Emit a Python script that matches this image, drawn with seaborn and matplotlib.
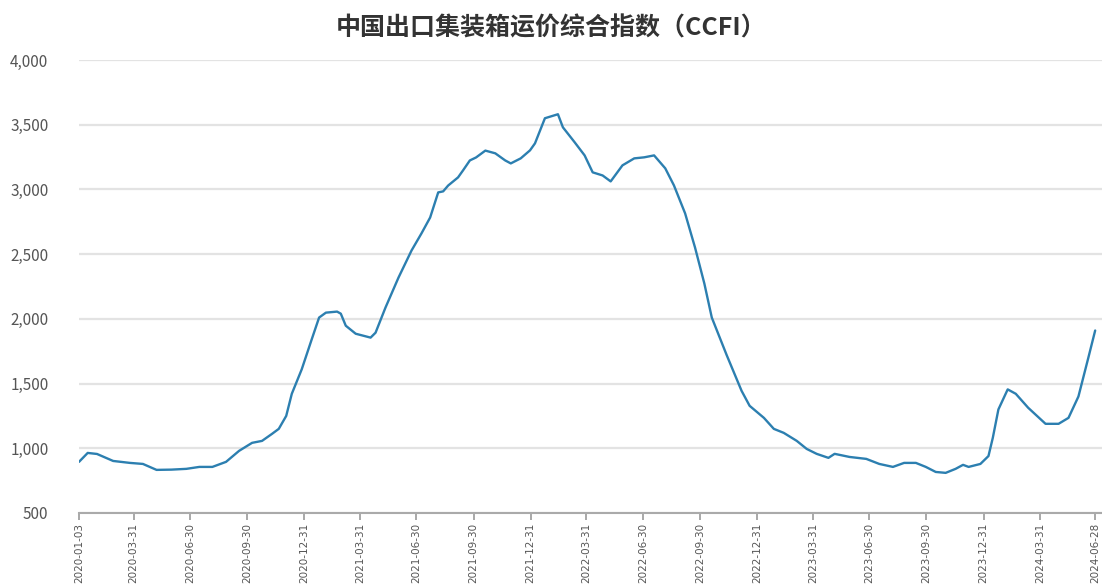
import pandas as pd
import numpy as np
import matplotlib
matplotlib.use('Agg')
import matplotlib.pyplot as plt
from matplotlib.ticker import FuncFormatter
import seaborn as sns

# CCFI weekly readings (approximate)
dates = ['2020-01-03', '2020-01-17', '2020-02-01', '2020-02-27', '2020-03-25', '2020-04-15',
         '2020-05-07', '2020-05-31', '2020-06-24', '2020-07-15', '2020-08-05', '2020-08-27',
         '2020-09-17', '2020-10-08', '2020-10-24', '2020-11-09', '2020-11-20', '2020-12-02',
         '2020-12-11', '2020-12-27', '2021-01-12', '2021-01-24', '2021-02-04', '2021-02-22',
         '2021-02-28', '2021-03-08', '2021-03-24', '2021-04-17', '2021-04-25', '2021-05-11',
         '2021-06-01', '2021-06-22', '2021-07-08', '2021-07-22', '2021-08-04', '2021-08-12',
         '2021-08-20', '2021-09-05', '2021-09-13', '2021-09-24', '2021-10-04', '2021-10-19',
         '2021-11-04', '2021-11-20', '2021-11-29', '2021-12-15', '2021-12-30', '2022-01-07',
         '2022-01-23', '2022-02-13', '2022-02-21', '2022-03-12', '2022-03-28', '2022-04-10',
         '2022-04-26', '2022-05-09', '2022-05-28', '2022-06-16', '2022-07-02', '2022-07-18',
         '2022-08-05', '2022-08-19', '2022-09-06', '2022-09-22', '2022-10-07', '2022-10-19',
         '2022-11-12', '2022-12-06', '2022-12-19', '2023-01-11', '2023-01-27', '2023-02-12',
         '2023-03-05', '2023-03-21', '2023-04-06', '2023-04-25', '2023-05-05', '2023-05-29',
         '2023-06-25', '2023-07-16', '2023-08-07', '2023-08-25', '2023-09-13', '2023-09-29',
         '2023-10-15', '2023-10-31', '2023-11-16', '2023-11-28', '2023-12-07', '2023-12-26',
         '2024-01-08', '2024-01-15', '2024-01-24', '2024-02-08', '2024-02-21', '2024-03-12',
         '2024-04-09', '2024-04-30', '2024-05-16', '2024-06-01', '2024-06-17', '2024-06-28']

ccfi = [895, 964, 956, 902, 887, 879,
        833, 835, 841, 856, 856, 895,
        980, 1042, 1057, 1111, 1150, 1250,
        1421, 1610, 1840, 2010, 2048, 2056,
        2040, 1947, 1885, 1855, 1893, 2087,
        2319, 2528, 2660, 2783, 2977, 2985,
        3030, 3093, 3147, 3224, 3247, 3300,
        3279, 3224, 3201, 3240, 3302, 3356,
        3550, 3581, 3480, 3364, 3263, 3132,
        3108, 3062, 3186, 3240, 3248, 3263,
        3163, 3031, 2815, 2551, 2273, 2010,
        1720, 1444, 1328, 1235, 1150, 1119,
        1057, 995, 957, 926, 957, 933,
        918, 879, 856, 887, 887, 856,
        817, 810, 841, 872, 856, 879,
        940, 1081, 1300, 1455, 1421, 1313,
        1189, 1189, 1235, 1400, 1700, 1910]

tick_dates = ['2020-01-03', '2020-03-31', '2020-06-30', '2020-09-30', '2020-12-31',
              '2021-03-31', '2021-06-30', '2021-09-30', '2021-12-31',
              '2022-03-31', '2022-06-30', '2022-09-30', '2022-12-31',
              '2023-03-31', '2023-06-30', '2023-09-30', '2023-12-31',
              '2024-03-31', '2024-06-28']

title = '中国出口集装箱运价综合指数（CCFI）'

df = pd.DataFrame({'date': pd.to_datetime(dates), 'ccfi': ccfi})

sns.set_theme(style='white')
plt.rcParams['font.family'] = ['Noto Sans CJK SC', 'DejaVu Sans']

fig = plt.figure(figsize=(11.02, 5.86), dpi=100)
ax = fig.add_axes([0.0717, 0.1246, 0.9283, 0.773])

sns.lineplot(data=df, x='date', y='ccfi', ax=ax, color='#2c7fb0', linewidth=1.7)

ax.set_ylim(500, 4000)
ax.set_yticks(np.arange(500, 4001, 500))
ax.yaxis.set_major_formatter(FuncFormatter(lambda v, p: f'{int(v):,}'))
ax.set_xlim(pd.Timestamp('2020-01-03'), pd.Timestamp('2024-07-09'))
ax.set_xticks(pd.to_datetime(tick_dates))
ax.set_xticklabels(tick_dates, rotation=90, va='top', ha='center',
                   fontsize=7.5, color='#555555', family='DejaVu Sans')

ax.grid(axis='y', color='#e3e3e3', linewidth=1.6)
ax.set_axisbelow(True)
for s in ['left', 'right', 'top']:
    ax.spines[s].set_visible(False)
ax.spines['bottom'].set_color('#aaaaaa')
ax.spines['bottom'].set_linewidth(1.5)
ax.tick_params(axis='x', bottom=True, length=5, width=1.2, color='#999999', pad=2)
ax.tick_params(axis='y', left=False, labelsize=11, labelcolor='#555555', pad=16)
ax.set_xlabel('')
ax.set_ylabel('')

fig.suptitle(title, x=0.5, y=0.972, fontsize=18, fontweight='bold', color='#333333')

fig.savefig('out.png', dpi=100)
